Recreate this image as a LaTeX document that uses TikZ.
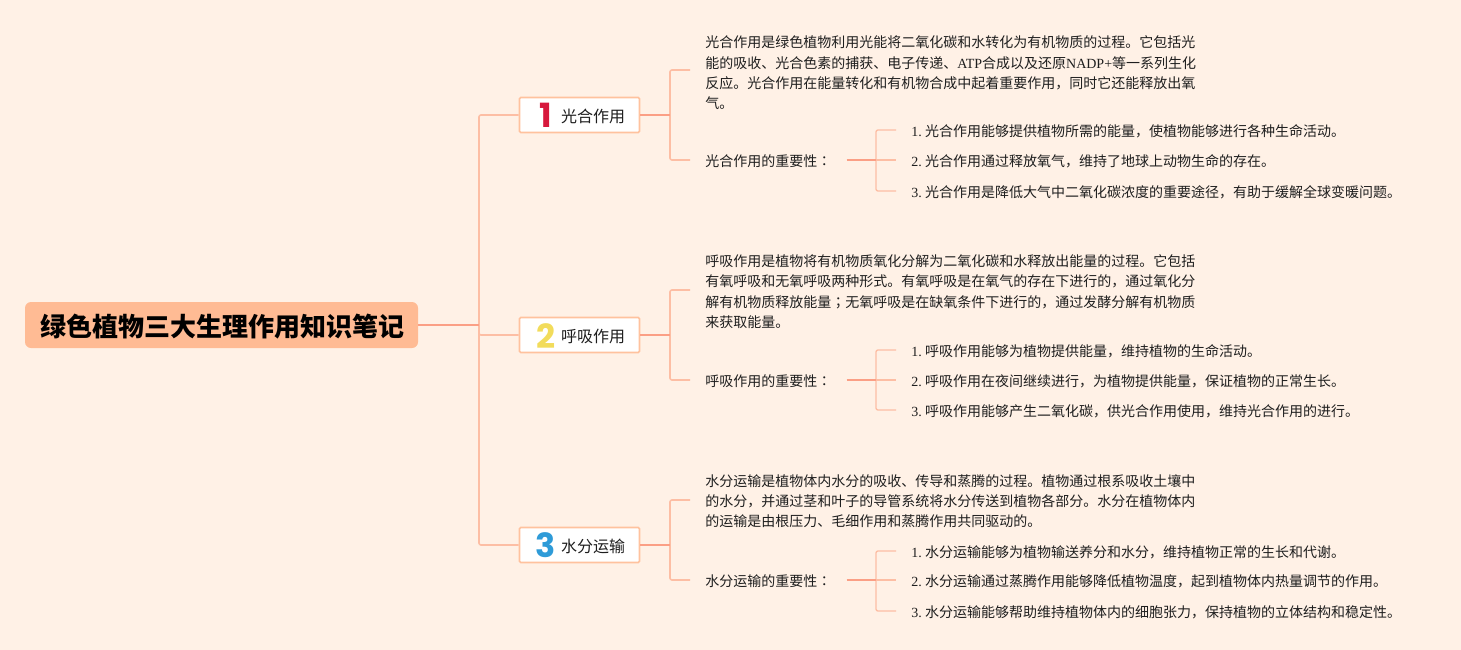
\documentclass[tikz,border=0pt]{standalone}
\usepackage{fontspec}
\setmainfont{Noto Sans CJK SC}
\newfontfamily\latfont{Liberation Serif}
\newfontfamily\punctfont{Noto Sans CJK TC}
\newfontfamily\numfont{Poppins}
\newcommand{\latn}[1]{{\latfont #1}}
\newcommand{\ordn}[1]{{\latfont #1.}\hspace{2.6pt}}
\newcommand{\cpunct}[1]{{\punctfont #1}}
\definecolor{bgc}{HTML}{FFF1E6}
\definecolor{rootc}{HTML}{FFBB94}
\definecolor{edgeA}{HTML}{FB9F85}
\definecolor{edgeB}{HTML}{FDBEA4}
\definecolor{boxedge}{HTML}{FFC29E}
\definecolor{txt}{HTML}{1E1E1E}
\definecolor{numA}{HTML}{D7183C}
\definecolor{numB}{HTML}{F2DC5B}
\definecolor{numC}{HTML}{2E9BD8}
\tikzset{
  x=0.75pt,y=-0.75pt,
  rootbox/.style={fill=rootc,rounded corners=4.5pt,minimum width=294.75pt,minimum height=34.5pt,inner sep=0pt,text=black,font=\fontsize{19.5pt}{22pt}\selectfont\bfseries},
  branchbox/.style={fill=white,draw=boxedge,line width=1.2pt,rounded corners=1pt,minimum width=90pt,minimum height=26.25pt,inner sep=0pt,text=txt,font=\fontsize{12pt}{14pt}\selectfont},
  numlabel/.style={inner sep=0pt,font=\numfont\bfseries\fontsize{25pt}{25pt}\selectfont},
  bodytext/.style={anchor=west,align=left,inner xsep=11.25pt,inner ysep=0pt,text=txt,font=\fontsize{10.5pt}{15.25pt}\selectfont},
  stemA/.style={draw=edgeB,line width=1.2pt,rounded corners=1.5pt},
  stemB/.style={draw=edgeA,line width=1.2pt},
  twig/.style={draw=edgeB,line width=1pt,rounded corners=1.5pt},
  twigmain/.style={draw=edgeA,line width=1pt}
}
\begin{document}
\begin{tikzpicture}
\useasboundingbox (0,0) rectangle (1461,650);
\fill[bgc] (0,0) rectangle (1461,650);

% nodes
\node[rootbox] (root) at (221.5,325) {\hspace*{1.5pt}\raisebox{-1.1pt}[\height][\depth]{绿色植物三大生理作用知识笔记}};
\node[branchbox] (b1) at (579.5,115) {\hspace*{20.25pt}\raisebox{-0.75pt}[\height][\depth]{光合作用}};
\node[branchbox] (b2) at (579.5,335) {\hspace*{20.25pt}\raisebox{-0.75pt}[\height][\depth]{呼吸作用}};
\node[branchbox] (b3) at (579.5,545) {\hspace*{20.25pt}\raisebox{-0.75pt}[\height][\depth]{水分运输}};
\node[numlabel,text=numA] (n1) at (546,115) {1};
\node[numlabel,text=numB] (n2) at (546,336) {2};
\node[numlabel,text=numC] (n3) at (546,545) {3};

\node[bodytext] (t1) at (690,73) {光合作用是绿色植物利用光能将二氧化碳和水转化为有机物质的过程。它包括光\\能的吸收、光合色素的捕获、电子传递、\latn{ATP}合成以及还原\latn{NADP+}等一系列生化\\反应。光合作用在能量转化和有机物合成中起着重要作用，同时它还能释放出氧\\气。};
\node[bodytext] (s1) at (690,161) {光合作用的重要性\cpunct{：}};
\node[bodytext] (i11) at (896,131) {\ordn{1}光合作用能够提供植物所需的能量，使植物能够进行各种生命活动。};
\node[bodytext] (i12) at (896,161) {\ordn{2}光合作用通过释放氧气，维持了地球上动物生命的存在。};
\node[bodytext] (i13) at (896,192) {\ordn{3}光合作用是降低大气中二氧化碳浓度的重要途径，有助于缓解全球变暖问题。};

\node[bodytext] (t2) at (690,291.5) {呼吸作用是植物将有机物质氧化分解为二氧化碳和水释放出能量的过程。它包括\\有氧呼吸和无氧呼吸两种形式。有氧呼吸是在氧气的存在下进行的，通过氧化分\\解有机物质释放能量\cpunct{；}无氧呼吸是在缺氧条件下进行的，通过发酵分解有机物质\\来获取能量。};
\node[bodytext] (s2) at (690,381) {呼吸作用的重要性\cpunct{：}};
\node[bodytext] (i21) at (896,351) {\ordn{1}呼吸作用能够为植物提供能量，维持植物的生命活动。};
\node[bodytext] (i22) at (896,381) {\ordn{2}呼吸作用在夜间继续进行，为植物提供能量，保证植物的正常生长。};
\node[bodytext] (i23) at (896,411) {\ordn{3}呼吸作用能够产生二氧化碳，供光合作用使用，维持光合作用的进行。};

\node[bodytext] (t3) at (690,501) {水分运输是植物体内水分的吸收、传导和蒸腾的过程。植物通过根系吸收土壤中\\的水分，并通过茎和叶子的导管系统将水分传送到植物各部分。水分在植物体内\\的运输是由根压力、毛细作用和蒸腾作用共同驱动的。};
\node[bodytext] (s3) at (690,581) {水分运输的重要性\cpunct{：}};
\node[bodytext] (i31) at (896,552) {\ordn{1}水分运输能够为植物输送养分和水分，维持植物正常的生长和代谢。};
\node[bodytext] (i32) at (896,581) {\ordn{2}水分运输通过蒸腾作用能够降低植物温度，起到植物体内热量调节的作用。};
\node[bodytext] (i33) at (896,612) {\ordn{3}水分运输能够帮助维持植物体内的细胞张力，保持植物的立体结构和稳定性。};

% junction coordinates
\coordinate (jr) at (479,325);
\coordinate (j1) at (670,115);
\coordinate (j2) at (670,335);
\coordinate (j3) at (670,545);
\coordinate (k1) at (876,160);
\coordinate (k2) at (876,380);
\coordinate (k3) at (876,580);

\draw[stemA] (jr) |- (b1.west);
\draw[stemA] (jr) |- (b3.west);
\draw[stemA] (jr) |- (b2.west);
\draw[stemB] (root.east) -- (jr);
\foreach \j/\b/\t/\s/\o in {j1/b1/t1/s1/2.25,j2/b2/t2/s2/1.125,j3/b3/t3/s3/0.75}{
  \draw[stemA] (\j) |- ([yshift=\o pt]\t.west);
  \draw[stemA] (\j) |- ([yshift=0.75pt]\s.west);
  \draw[stemB] (\b.east) -- (\j);
}
\foreach \k/\s/\x/\y/\z in {k1/s1/i11/i12/i13,k2/s2/i21/i22/i23,k3/s3/i31/i32/i33}{
  \draw[twig] (\k) |- ([yshift=0.75pt]\x.west);
  \draw[twig] (\k) -- ([yshift=0.75pt]\y.west);
  \draw[twig] (\k) |- ([yshift=0.75pt]\z.west);
  \draw[twigmain] ([yshift=0.75pt]\s.east) -- (\k);
}
\end{tikzpicture}
\end{document}
